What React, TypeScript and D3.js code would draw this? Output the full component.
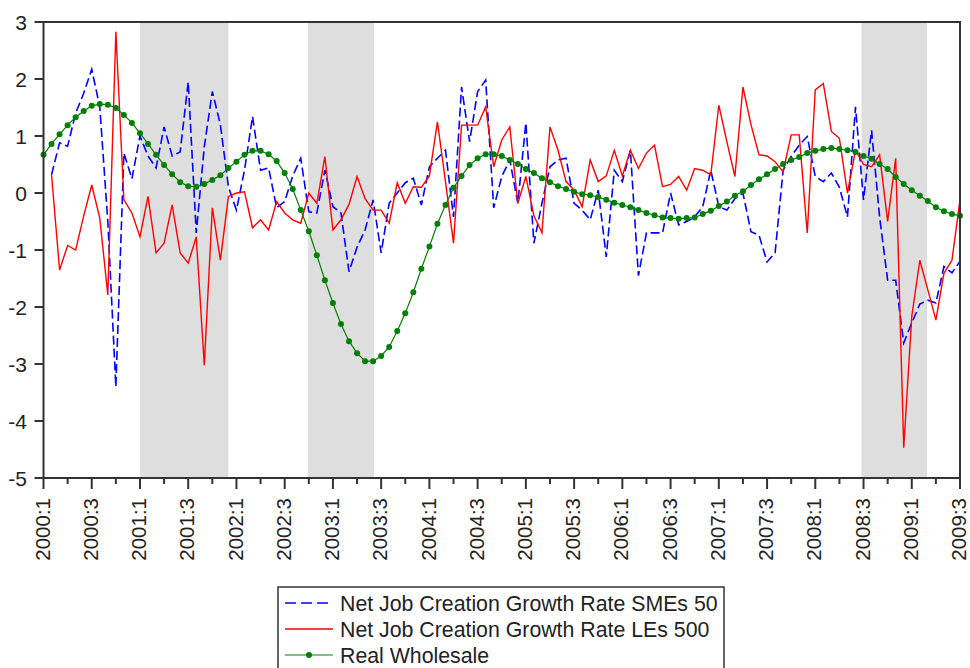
import React from "react";
import * as d3 from "d3";

// Monthly observations, 2000M1 .. 2009M7 (index 0..114)
const smes: (number | null)[] = [null,
  0.32, 0.88, 0.82, 1.4, 1.75, 2.17, 1.51, -0.5, -3.4, 0.7,
  0.25, 1.0, 0.65, 0.44, 1.16, 0.65, 0.72, 1.95, -0.7, 0.81,
  1.78, 1.2, 0.11, -0.3, 0.4, 1.34, 0.4, 0.44, -0.26, -0.15,
  0.3, 0.61, -0.33, -0.35, 0.4, -0.24, -0.35, -1.38, -0.95, -0.65,
  -0.12, -1.05, -0.18, 0.0, 0.18, 0.26, -0.21, 0.46, 0.61, 0.75,
  -0.42, 1.86, 0.9, 1.78, 1.98, -0.26, 0.29, 0.58, -0.18, 1.23,
  -0.88, -0.18, 0.46, 0.58, 0.61, -0.18, -0.3, -0.47, 0.05, -1.12,
  0.4, 0.2, 0.75, -1.45, -0.7, -0.7, -0.7, 0.0, -0.56, -0.5,
  -0.42, -0.24, 0.4, -0.24, -0.3, -0.1, 0.0, -0.68, -0.74, -1.21,
  -1.05, 0.4, 0.64, 0.84, 0.99, 0.29, 0.2, 0.35, 0.1, -0.42,
  1.51, -0.12, 1.1, -0.42, -1.53, -1.53, -2.63, -2.28, -1.95, -1.88,
  -1.93, -1.29, -1.4, -1.2];

const les: (number | null)[] = [null,
  0.32, -1.35, -0.92, -1.0, -0.4, 0.14, -0.44, -1.79, 2.83, -0.12,
  -0.35, -0.77, -0.06, -1.05, -0.88, -0.21, -1.05, -1.23, -0.77, -3.02,
  -0.26, -1.18, -0.06, 0.0, 0.02, -0.61, -0.47, -0.65, -0.15, -0.35,
  -0.47, -0.53, 0.0, -0.18, 0.64, -0.65, -0.47, -0.2, 0.29, -0.1,
  -0.3, -0.3, -0.53, 0.18, -0.18, 0.11, 0.1, 0.3, 1.25, 0.2,
  -0.88, 1.19, 1.19, 1.19, 1.51, 0.46, 0.93, 1.16, -0.18, 0.29,
  -0.4, -0.7, 1.16, 0.75, 0.2, 0.05, -0.24, 0.58, 0.2, 0.3,
  0.75, 0.3, 0.75, 0.43, 0.7, 0.84, 0.11, 0.15, 0.29, 0.05,
  0.43, 0.4, 0.32, 1.54, 0.9, 0.29, 1.86, 1.2, 0.67, 0.65,
  0.55, 0.37, 1.02, 1.02, -0.7, 1.81, 1.92, 1.08, 0.96, 0.0,
  0.75, 0.5, 0.46, 0.67, -0.5, 0.61, -4.47, -2.17, -1.18, -1.7,
  -2.23, -1.41, -1.18, -0.12];

const wholesale: number[] = [
  0.67, 0.86, 1.03, 1.19, 1.33, 1.44, 1.53, 1.56, 1.55, 1.49,
  1.37, 1.23, 1.05, 0.86, 0.67, 0.49, 0.33, 0.19, 0.12, 0.11,
  0.16, 0.23, 0.31, 0.44, 0.55, 0.67, 0.74, 0.74, 0.68, 0.56,
  0.35, 0.07, -0.30, -0.67, -1.09, -1.53, -1.93, -2.30, -2.60, -2.81,
  -2.95, -2.95, -2.86, -2.70, -2.42, -2.11, -1.74, -1.33, -0.94, -0.54,
  -0.21, 0.09, 0.30, 0.49, 0.61, 0.68, 0.68, 0.65, 0.58, 0.51,
  0.42, 0.35, 0.26, 0.19, 0.12, 0.07, 0.02, -0.02, -0.04, -0.07,
  -0.12, -0.17, -0.21, -0.25, -0.30, -0.35, -0.39, -0.43, -0.44, -0.45,
  -0.44, -0.43, -0.37, -0.31, -0.23, -0.15, -0.05, 0.03, 0.14, 0.24,
  0.33, 0.42, 0.51, 0.58, 0.63, 0.70, 0.74, 0.77, 0.79, 0.77,
  0.75, 0.72, 0.65, 0.60, 0.51, 0.42, 0.28, 0.16, 0.05, -0.05,
  -0.14, -0.25, -0.32, -0.37, -0.40];

// recession shading (month index ranges)
const shades: [number, number][] = [[12, 23], [32.9, 41.1], [101.75, 109.9]];

const yTicks = [3, 2, 1, 0, -1, -2, -3, -4, -5];
const xTickLabels = [
  "2000:1", "2000:3", "2001:1", "2001:3", "2002:1", "2002:3", "2003:1", "2003:3",
  "2004:1", "2004:3", "2005:1", "2005:3", "2006:1", "2006:3", "2007:1", "2007:3",
  "2008:1", "2008:3", "2009:1", "2009:3"];

const legendLabels = [
  "Net Job Creation Growth Rate SMEs 50",
  "Net Job Creation Growth Rate LEs 500",
  "Real Wholesale"];

const FONT = "Arial, 'Liberation Sans', sans-serif";

export default function App() {
  const W = 970, H = 668;
  const x = d3.scaleLinear().domain([0, 114]).range([43.5, 960]);
  const y = d3.scaleLinear().domain([-5, 3]).range([478, 22]);

  const mk = (arr: (number | null)[]) =>
    d3.line<number | null>()
      .defined((d) => d !== null)
      .x((_, i) => x(i))
      .y((d) => y(d as number))(arr) || "";

  const quarterTicks = d3.range(0, 115, 3);

  return (
    <svg width={W} height={H} style={{ position: "absolute", left: 0, top: 0, background: "#fff" }}>
      {shades.map(([a, b], k) => (
        <rect key={k} x={x(a)} y={y(3)} width={x(b) - x(a)} height={y(-5) - y(3)} fill="#dedede" />
      ))}
      <path d={mk(smes)} fill="none" stroke="#0000ff" strokeWidth={1.6} strokeDasharray="9,4" />
      <path d={mk(les)} fill="none" stroke="#ff0000" strokeWidth={1.4} />
      <path d={mk(wholesale)} fill="none" stroke="#008000" strokeWidth={1.2} />
      {wholesale.map((d, i) => (
        <circle key={i} cx={x(i)} cy={y(d)} r={3} fill="#008000" />
      ))}
      {/* frame */}
      <rect x={x(0)} y={y(3)} width={x(114) - x(0)} height={y(-5) - y(3)} fill="none" stroke="#333" strokeWidth={2} />
      {/* y ticks */}
      {yTicks.map((t) => (
        <g key={t}>
          <line x1={x(0) - 9} x2={x(0)} y1={y(t)} y2={y(t)} stroke="#333" strokeWidth={2} />
          <text x={27} y={y(t)} dy="0.36em" textAnchor="end" fontFamily={FONT} fontSize={21} fill="#222">{t}</text>
        </g>
      ))}
      {/* x ticks */}
      {quarterTicks.map((m, k) => (
        <line key={m} x1={x(m)} x2={x(m)} y1={y(-5)} y2={y(-5) + (k % 2 === 0 ? 11 : 6)} stroke="#333" strokeWidth={2} />
      ))}
      {xTickLabels.map((lab, k) => (
        <text key={lab} transform={`translate(${x(k * 6)},${498}) rotate(-90)`} dy="0.3em" textAnchor="end"
          fontFamily={FONT} fontSize={20.5} fill="#222">{lab}</text>
      ))}
      {/* legend */}
      <rect x={278} y={587} width={446} height={120} fill="#fff" stroke="#333" strokeWidth={1.5} />
      {legendLabels.map((lab, k) => {
        const ly = 603 + k * 26;
        return (
          <g key={lab}>
            {k === 0 && <line x1={285} x2={333} y1={ly} y2={ly} stroke="#0000ff" strokeWidth={1.6} strokeDasharray="11,5" />}
            {k === 1 && <line x1={285} x2={333} y1={ly} y2={ly} stroke="#ff0000" strokeWidth={1.4} />}
            {k === 2 && (
              <g>
                <line x1={285} x2={333} y1={ly} y2={ly} stroke="#008000" strokeWidth={1.2} />
                <circle cx={309} cy={ly} r={3} fill="#008000" />
              </g>
            )}
            <text x={340} y={ly} dy="0.36em" fontFamily={FONT} fontSize={21.3} fill="#222">{lab}</text>
          </g>
        );
      })}
    </svg>
  );
}
